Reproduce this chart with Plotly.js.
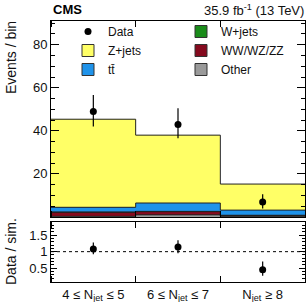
<!DOCTYPE html>
<html>
<head>
<meta charset="utf-8">
<script src="https://cdn.plot.ly/plotly-3.0.1.min.js"></script>
<style>html,body{margin:0;padding:0;background:#fff;}#chart{width:308px;height:302px;}</style>
</head>
<body>
<div id="chart"></div>
<script>
// ---- data ----
var binIdx = [0, 1, 2];
var binLabels = ["4 \u2264 N<sub>jet</sub> \u2264 5", "6 \u2264 N<sub>jet</sub> \u2264 7", "N<sub>jet</sub> \u2265 8"];
var other  = [0.3, 1.0, 0.3];
var diboson = [1.9, 1.5, 0.4];
var wjets  = [0.1, 0.1, 0.1];
var ttbar  = [2.2, 3.9, 2.4];
var zjets  = [40.9, 31.5, 12.1];
var dataVals = [49, 43, 7];
var dataErrUp = [7.6, 7.5, 3.6];
var dataErrDn = [7.0, 6.4, 3.0];
var ratioVals = [1.08, 1.14, 0.45];
var ratioErrUp = [0.20, 0.21, 0.25];
var ratioErrDn = [0.16, 0.19, 0.18];

var FONT = "Liberation Sans, Arial, Helvetica, sans-serif";
var W = 308, H = 302;
function px(x){return x / W;}
function py(y){return 1 - y / H;}

var components = [
  {name: "Other", vals: other, color: "#9a9a9a", rank: 6},
  {name: "WW/WZ/ZZ", vals: diboson, color: "#850a1e", rank: 4},
  {name: "W+jets", vals: wjets, color: "#1a8c1a", rank: 2},
  {name: "tt\u0304", vals: ttbar, color: "#1f93ea", rank: 5},
  {name: "Z+jets", vals: zjets, color: "#ffff66", rank: 3}
];

var traces = [];
components.forEach(function(c){
  traces.push({
    type: "bar", x: binIdx, y: c.vals, width: 1, name: c.name, showlegend: false,
    marker: {color: c.color, line: {width: 0}},
    xaxis: "x", yaxis: "y", hoverinfo: "skip"
  });
});

// step outlines at each cumulative boundary
var cum = [0, 0, 0];
components.forEach(function(c){
  cum = cum.map(function(v, i){ return v + c.vals[i]; });
  var xs = binIdx.map(function(b){ return b - 0.5; }).concat([binIdx[binIdx.length-1] + 0.5]);
  var ys = cum.concat([cum[cum.length-1]]);
  traces.push({
    type: "scatter", mode: "lines", x: xs, y: ys, line: {shape: "hv", color: "#222", width: 1},
    showlegend: false, xaxis: "x", yaxis: "y", hoverinfo: "skip"
  });
});

// legend entries (outlined patches)
components.forEach(function(c){
  traces.push({
    type: "bar", x: [null], y: [null], name: c.name, showlegend: true,
    marker: {color: c.color, line: {color: "#333", width: 1}},
    legendrank: c.rank, xaxis: "x", yaxis: "y", hoverinfo: "skip"
  });
});

traces.push({
  type: "scatter", mode: "markers", x: binIdx, y: dataVals, name: "Data",
  marker: {color: "#000", size: 7},
  error_y: {type: "data", symmetric: false, array: dataErrUp, arrayminus: dataErrDn, color: "#000", thickness: 1.2, width: 0},
  legendrank: 1, xaxis: "x", yaxis: "y"
});

traces.push({
  type: "scatter", mode: "markers", x: binIdx, y: ratioVals, showlegend: false,
  marker: {color: "#000", size: 7},
  error_y: {type: "data", symmetric: false, array: ratioErrUp, arrayminus: ratioErrDn, color: "#000", thickness: 1.2, width: 0},
  xaxis: "x2", yaxis: "y2"
});

var xdom = [px(51), px(305)];
var axisCommon = {showline: true, linecolor: "#000", linewidth: 1, mirror: "ticks", zeroline: false, showgrid: false,
  tickfont: {family: FONT, size: 13, color: "#111"}};

var layout = {
  width: W, height: H,
  margin: {l: 0, r: 0, t: 0, b: 0},
  paper_bgcolor: "#fff", plot_bgcolor: "#fff",
  barmode: "stack", bargap: 0,
  font: {family: FONT, color: "#111"},
  showlegend: true,
  legend: {
    orientation: "h", x: px(68), y: py(17), xanchor: "left", yanchor: "top",
    traceorder: "normal", entrywidth: 68, entrywidthmode: "pixels",
    font: {family: FONT, size: 12, color: "#111"}, bgcolor: "rgba(0,0,0,0)", itemwidth: 30,
    tracegroupgap: 0
  },
  xaxis: Object.assign({}, axisCommon, {
    domain: xdom, anchor: "y", range: [-0.5, 2.5], showticklabels: false, ticks: "",
    tickvals: binIdx,
    minor: {ticks: "inside", tick0: 0.5, dtick: 1, ticklen: 6, tickcolor: "#000"}
  }),
  yaxis: Object.assign({}, axisCommon, {
    domain: [py(217), py(21)], anchor: "x", range: [0, 91],
    tickvals: [20, 40, 60, 80], ticks: "inside", ticklen: 8, tickcolor: "#000",
    minor: {ticks: "inside", dtick: 5, ticklen: 4, tickcolor: "#000"}
  }),
  xaxis2: Object.assign({}, axisCommon, {
    domain: xdom, anchor: "y2", range: [-0.5, 2.5], matches: "x",
    tickmode: "array", tickvals: binIdx, ticktext: binLabels, ticks: "",
    minor: {ticks: "inside", tick0: 0.5, dtick: 1, ticklen: 6, tickcolor: "#000"}
  }),
  yaxis2: Object.assign({}, axisCommon, {
    domain: [py(282), py(222)], anchor: "x2", range: [0.08, 1.9],
    tickvals: [0.5, 1, 1.5], ticks: "inside", ticklen: 6, tickcolor: "#000",
    minor: {ticks: "inside", dtick: 0.1, ticklen: 3, tickcolor: "#000"}
  }),
  shapes: [{
    type: "line", xref: "x2", yref: "y2", x0: -0.5, x1: 2.5, y0: 1, y1: 1,
    line: {color: "#000", width: 1, dash: "dot"}
  }],
  annotations: [
    {text: "<b>CMS</b>", xref: "paper", yref: "paper", x: px(51), y: py(10), xanchor: "left", yanchor: "middle",
     showarrow: false, font: {family: FONT, size: 13, color: "#000"}},
    {text: "35.9 fb<sup>-1</sup> (13 TeV)", xref: "paper", yref: "paper", x: px(306), y: py(10), xanchor: "right", yanchor: "middle",
     showarrow: false, font: {family: FONT, size: 13, color: "#111"}},
    {text: "Events / bin", xref: "paper", yref: "paper", x: px(11), y: py(58), xanchor: "center", yanchor: "middle",
     textangle: -90, showarrow: false, font: {family: FONT, size: 14, color: "#111"}},
    {text: "Data / sim.", xref: "paper", yref: "paper", x: px(11), y: py(252), xanchor: "center", yanchor: "middle",
     textangle: -90, showarrow: false, font: {family: FONT, size: 14, color: "#111"}}
  ]
};

Plotly.newPlot("chart", traces, layout, {staticPlot: true, displayModeBar: false});
</script>
</body>
</html>
